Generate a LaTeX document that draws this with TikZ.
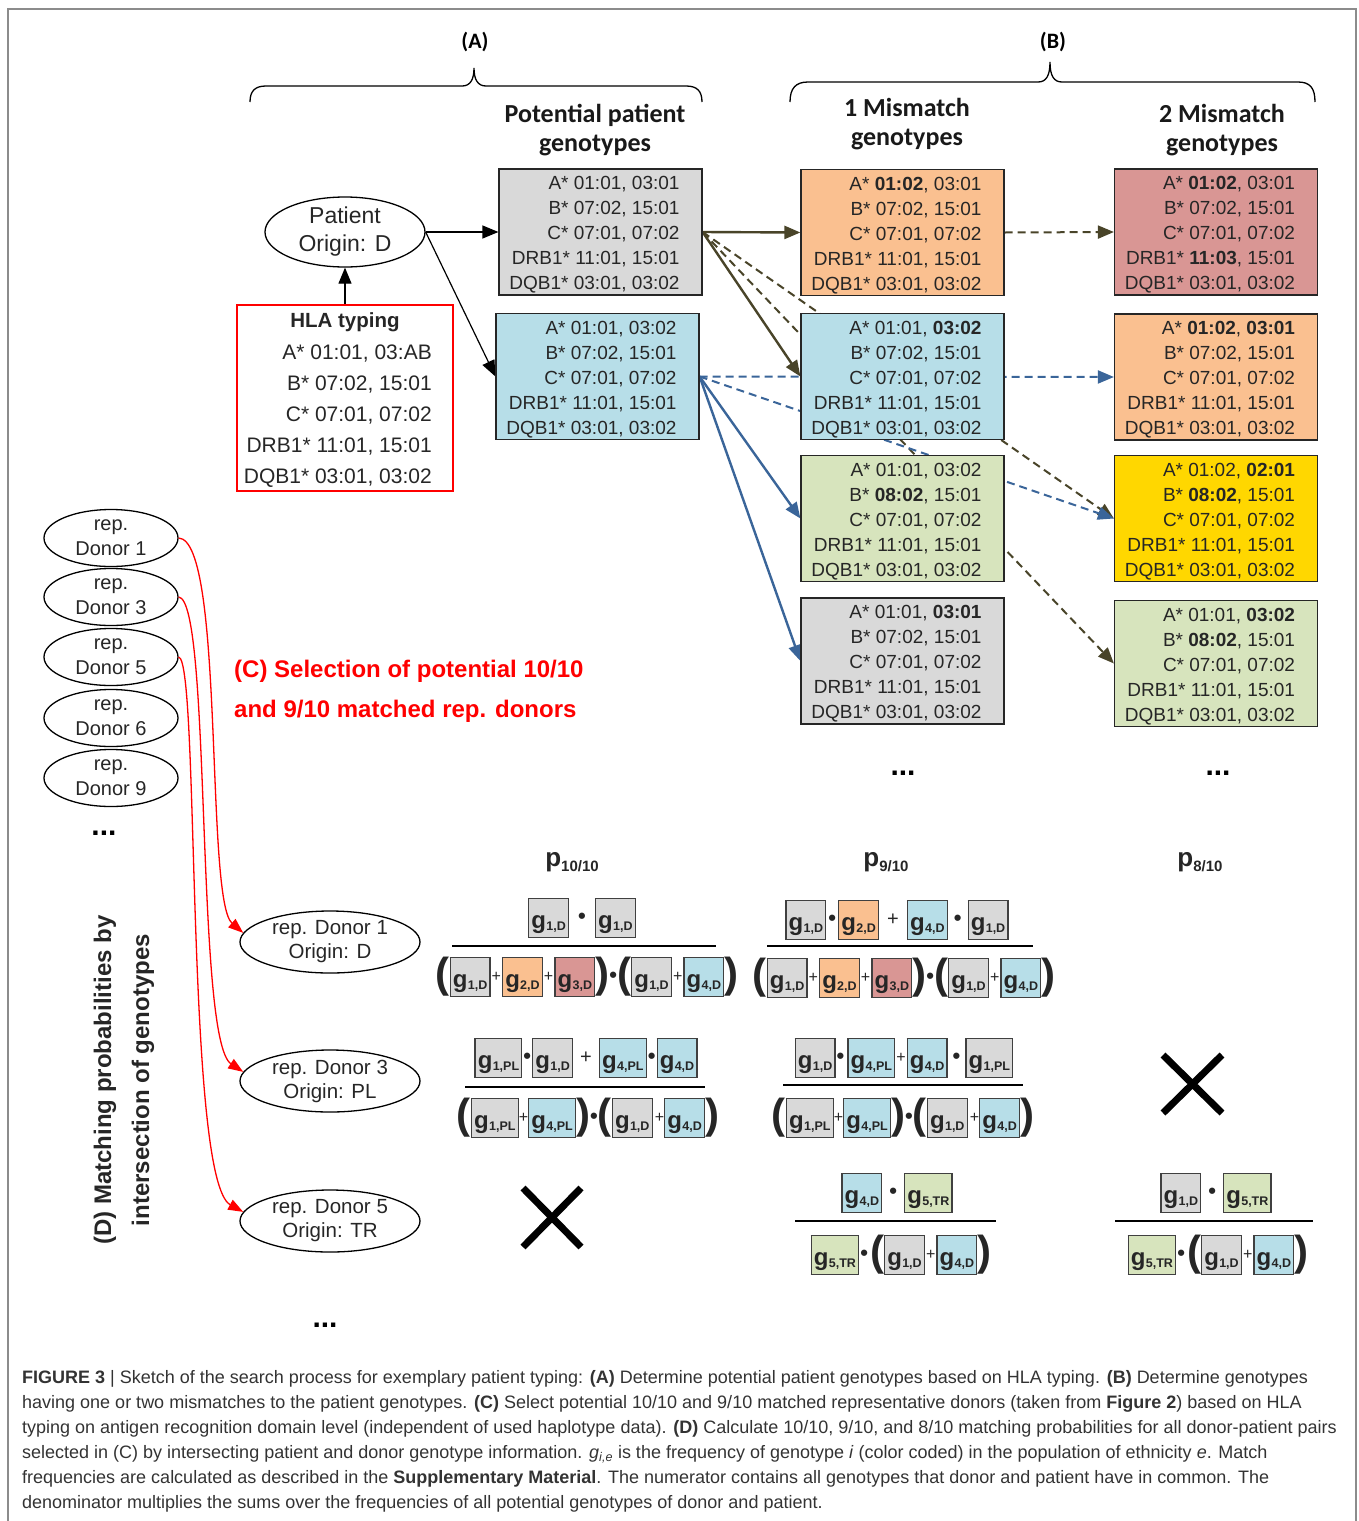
\documentclass[tikz,border=0pt]{standalone}
\usepackage{fontspec}
\setmainfont{Liberation Sans}
\newfontfamily\calfont{Carlito}
\usetikzlibrary{arrows.meta,shapes.geometric,backgrounds}
\definecolor{cgray}{HTML}{D9D9D9}
\definecolor{cblue}{HTML}{B7DEE8}
\definecolor{corange}{HTML}{FAC090}
\definecolor{cpink}{HTML}{D99694}
\definecolor{cyellow}{HTML}{FFD700}
\definecolor{cgreen}{HTML}{D7E4BD}
\definecolor{olivearr}{HTML}{494429}
\definecolor{bluearr}{HTML}{3A6599}
\definecolor{gbd}{HTML}{404040}
\definecolor{txt}{HTML}{262626}
\definecolor{framec}{HTML}{8C8C8C}
\definecolor{capc}{HTML}{333333}

\newcommand\vc[1]{\ensuremath{\vcenter{\hbox{#1}}}}
\newcommand\gb[2]{\vc{\fboxsep=0pt\fboxrule=1.3pt\fcolorbox{gbd}{#1}{\vbox to 38pt{\vfil\hbox{\kern2pt{\fontsize{24}{24}\selectfont g}\kern0.3pt\raisebox{-2pt}{\fontsize{12.5}{12.5}\selectfont #2}\kern2pt}\kern3pt}}}}
\newcommand\bul{\vc{\fontsize{22}{22}\selectfont •}}
\newcommand\gplus{\vc{\fontsize{20}{20}\selectfont\mdseries +}}
\newcommand\gsplus{\vc{\fontsize{16}{16}\selectfont\mdseries +}}
\newcommand\glp{\vc{\fontsize{42}{42}\selectfont (}}
\newcommand\grp{\vc{\fontsize{42}{42}\selectfont )}}
\newcommand\gt[5]{\raisebox{-2.5pt}[\height][\depth]{\begin{tabular}{@{}r@{\hspace{12pt}}}A*~#1\\B*~#2\\C*~#3\\DRB1*~#4\\DQB1*~#5\end{tabular}}}

\tikzset{
  geno/.style={draw=black!85, line width=1.2pt, minimum width=203pt, minimum height=126pt, inner sep=0pt, font=\fontsize{19}{25}\selectfont, text=txt},
  pat/.style={ellipse, draw, line width=1.3pt, minimum width=160pt, minimum height=70pt, inner sep=0pt, align=center, font=\fontsize{23}{28}\selectfont, text=txt},
  donor/.style={ellipse, draw, line width=1.3pt, minimum width=134pt, minimum height=57pt, inner sep=-2pt, align=center, font=\fontsize{20}{25}\selectfont, text=txt},
  ldonor/.style={ellipse, draw, line width=1.3pt, minimum width=180pt, minimum height=62pt, inner sep=0pt, align=center, font=\fontsize{20.5}{24}\selectfont, text=txt},
  head/.style={align=center, font=\calfont\bfseries\fontsize{26}{29}\selectfont, text=black!90},
  blab/.style={font=\calfont\bfseries\fontsize{22}{22}\selectfont},
  fr/.style={inner sep=0pt, font=\bfseries, text=txt},
  plab/.style={inner sep=0pt, font=\fontsize{26}{26}\selectfont\bfseries, text=txt},
  dotsn/.style={inner sep=0pt, font=\fontsize{30}{30}\selectfont\bfseries},
  bar/.style={line width=2.8pt},
  bigx/.style={line width=7pt},
  oarr/.style={draw=olivearr, line width=2.4pt, -{Triangle[length=16pt,width=13pt]}},
  oarrd/.style={oarr, line width=2pt, dash pattern=on 8pt off 5pt},
  barr/.style={draw=bluearr, line width=2.4pt, -{Triangle[length=16pt,width=13pt]}},
  barrd/.style={barr, line width=2pt, dash pattern=on 8pt off 5pt},
  karr/.style={draw=black, line width=1.2pt, -{Triangle[length=16pt,width=13pt]}},
  rarr/.style={draw=red, line width=1.3pt, -{Triangle[length=15pt,width=11pt]}},
  capl/.style={anchor=base west, inner sep=0pt, font=\fontsize{18}{18}\selectfont, text=capc},
}

\begin{document}
\begin{tikzpicture}[x=1pt,y=-1pt]
\useasboundingbox (0,0) rectangle (1358,1521);
\draw[framec, line width=1.5pt] (8,1521) -- (8,9) -- (1356,9) -- (1356,1521);

% braces and labels
\node[blab] (labA) at (475,42) {(A)};
\node[blab] (labB) at (1053,42) {(B)};
\draw[line width=1.3pt] (250,102) .. controls (250,91) and (255,86) .. (266,86) -- (462,86) .. controls (470,86) and (474,80) .. (474,68) .. controls (474,80) and (478,86) .. (486,86) -- (686,86) .. controls (697,86) and (702,91) .. (702,102);
\draw[line width=1.3pt] (790,102) .. controls (790,88) and (796,82) .. (808,82) -- (1038,82) .. controls (1046,82) and (1050,76) .. (1050,62) .. controls (1050,76) and (1054,82) .. (1062,82) -- (1298,82) .. controls (1310,82) and (1315,88) .. (1315,102);

\node[head] (hP) at (595,130) {Potential patient\\genotypes};
\node[head] (h1) at (907,124) {1 Mismatch\\genotypes};
\node[head] (h2) at (1222,130) {2 Mismatch\\genotypes};

% patient
\node[pat] (pat) at (345,232) {Patient\\Origin: D};
\node[draw=red, line width=1.3pt, minimum width=216pt, minimum height=186pt, inner sep=0pt] (hla) at (345,398) {};
\node[font=\fontsize{20.5}{20.5}\selectfont\bfseries, text=txt, inner sep=0pt] (hlat) at (345,322) {HLA typing};
\node[anchor=east, inner sep=0pt, font=\fontsize{21}{31}\selectfont, text=txt] (hlal) at (432,415) {\begin{tabular}{@{}r@{}}A* 01:01, 03:AB\\B* 07:02, 15:01\\C* 07:01, 07:02\\DRB1* 11:01, 15:01\\DQB1* 03:01, 03:02\end{tabular}};

% genotype boxes
\node[geno, fill=cgray] (P1) at (600.5,232) {\gt{01:01, 03:01}{07:02, 15:01}{07:01, 07:02}{11:01, 15:01}{03:01, 03:02}};
\node[geno, fill=cblue] (P2) at (597.5,376.5) {\gt{01:01, 03:02}{07:02, 15:01}{07:01, 07:02}{11:01, 15:01}{03:01, 03:02}};
\node[geno, fill=corange] (M1a) at (902.5,232.5) {\gt{\textbf{01:02}, 03:01}{07:02, 15:01}{07:01, 07:02}{11:01, 15:01}{03:01, 03:02}};
\node[geno, fill=cblue] (M1b) at (902.5,376.5) {\gt{01:01, \textbf{03:02}}{07:02, 15:01}{07:01, 07:02}{11:01, 15:01}{03:01, 03:02}};
\node[geno, fill=cgreen] (M1c) at (902.5,518.5) {\gt{01:01, 03:02}{\textbf{08:02}, 15:01}{07:01, 07:02}{11:01, 15:01}{03:01, 03:02}};
\node[geno, fill=cgray] (M1d) at (902.5,661) {\gt{01:01, \textbf{03:01}}{07:02, 15:01}{07:01, 07:02}{11:01, 15:01}{03:01, 03:02}};
\node[geno, fill=cpink] (M2a) at (1216,232) {\gt{\textbf{01:02}, 03:01}{07:02, 15:01}{07:01, 07:02}{\textbf{11:03}, 15:01}{03:01, 03:02}};
\node[geno, fill=corange] (M2b) at (1216,377) {\gt{\textbf{01:02}, \textbf{03:01}}{07:02, 15:01}{07:01, 07:02}{11:01, 15:01}{03:01, 03:02}};
\node[geno, fill=cyellow] (M2c) at (1216,518.5) {\gt{01:02, \textbf{02:01}}{\textbf{08:02}, 15:01}{07:01, 07:02}{11:01, 15:01}{03:01, 03:02}};
\node[geno, fill=cgreen] (M2d) at (1216,663.5) {\gt{01:01, \textbf{03:02}}{\textbf{08:02}, 15:01}{07:01, 07:02}{11:01, 15:01}{03:01, 03:02}};

\node[dotsn] (dM1) at (903,773) {...};
\node[dotsn] (dM2) at (1218,773) {...};

% connectors (behind boxes)
\begin{scope}[on background layer]
\draw[karr] (hla.north) -- (pat.south);
\draw[karr] (pat.east) -- (P1.west);
\draw[karr] (pat.east) -- (P2.west);
\draw[oarrd] (P1.east) -- (M2c.west);
\draw[oarrd] (P1.east) -- (M2d.west);
\draw[oarr] (P1.east) -- (M1a.west);
\draw[oarr] (P1.east) -- (M1b.west);
\draw[oarrd] (M1a.east) -- (M2a.west);
\draw[barrd] (P2.east) -- (M2b.west);
\draw[barrd] (P2.east) -- (M2c.west);
\draw[barr] (P2.east) -- (M1c.west);
\draw[barr] (P2.east) -- (M1d.west);
\end{scope}

% donors
\node[donor] (D1) at (111,538) {rep.\\Donor 1};
\node[donor] (D3) at (111,597) {rep.\\Donor 3};
\node[donor] (D5) at (111,657) {rep.\\Donor 5};
\node[donor] (D6) at (111,718) {rep.\\Donor 6};
\node[donor] (D9) at (111,778) {rep.\\Donor 9};
\node[dotsn] (dD) at (104,833) {...};

\node[anchor=west, align=left, inner sep=0pt, text=red, font=\fontsize{24}{40}\selectfont\bfseries] (selC) at (234,691) {(C) Selection of potential 10/10\\and 9/10 matched rep. donors};

\node[ldonor] (L1) at (330,942) {rep. Donor 1\\Origin: D};
\node[ldonor] (L3) at (330,1081) {rep. Donor 3\\Origin: PL};
\node[ldonor] (L5) at (330,1221) {rep. Donor 5\\Origin: TR};
\node[dotsn] (dL) at (325,1325) {...};

\draw[rarr] (D1.east) .. controls (225,540) and (205,900) .. (L1.174);
\draw[rarr] (D3.east) .. controls (212,600) and (195,1040) .. (L3.174);
\draw[rarr] (D5.east) .. controls (200,660) and (185,1180) .. (L5.174);

\node[rotate=90, align=center, inner sep=0pt, font=\fontsize{24}{38}\selectfont\bfseries, text=txt] (labD) at (124,1080) {(D) Matching probabilities by\\intersection of genotypes};

% p labels
\node[plab] (p10) at (572,862) {p\raisebox{-5pt}{\fontsize{15}{15}\selectfont 10/10}};
\node[plab] (p9) at (886,862) {p\raisebox{-5pt}{\fontsize{15}{15}\selectfont 9/10}};
\node[plab] (p8) at (1200,862) {p\raisebox{-5pt}{\fontsize{15}{15}\selectfont 8/10}};

% row 1
\node[fr] (n1a) at (582,918) {\gb{cgray}{1,D}\kern9pt\bul\kern9pt\gb{cgray}{1,D}};
\draw[bar] (452,946) -- (716,946);
\node[fr] (d1a) at (587,977) {\glp\gb{cgray}{1,D}\kern1pt\gsplus\kern1pt\gb{corange}{2,D}\kern1pt\gsplus\kern1pt\gb{cpink}{3,D}\grp\bul\glp\gb{cgray}{1,D}\kern1pt\gsplus\kern1pt\gb{cblue}{4,D}\grp};
\node[fr] (n1b) at (897,920) {\gb{cgray}{1,D}\kern2pt\bul\kern2pt\gb{corange}{2,D}\kern8pt\gplus\kern8pt\gb{cblue}{4,D}\kern6pt\bul\kern6pt\gb{cgray}{1,D}};
\draw[bar] (767,946) -- (1033,946);
\node[fr] (d1b) at (904,978) {\glp\gb{cgray}{1,D}\kern1pt\gsplus\kern1pt\gb{corange}{2,D}\kern1pt\gsplus\kern1pt\gb{cpink}{3,D}\grp\bul\glp\gb{cgray}{1,D}\kern1pt\gsplus\kern1pt\gb{cblue}{4,D}\grp};

% row 2
\node[fr] (n2a) at (586,1058) {\gb{cgray}{1,PL}\kern1pt\bul\kern1pt\gb{cgray}{1,D}\kern7pt\gplus\kern7pt\gb{cblue}{4,PL}\kern1pt\bul\kern1pt\gb{cblue}{4,D}};
\draw[bar] (465,1087) -- (705,1087);
\node[fr] (d2a) at (588,1118) {\glp\gb{cgray}{1,PL}\gsplus\gb{cblue}{4,PL}\grp\bul\glp\gb{cgray}{1,D}\kern2pt\gsplus\gb{cblue}{4,D}\grp};
\node[fr] (n2b) at (904,1058) {\gb{cgray}{1,D}\kern1pt\bul\kern3pt\gb{cblue}{4,PL}\kern1pt\gsplus\kern1pt\gb{cblue}{4,D}\kern5pt\bul\kern5pt\gb{cgray}{1,PL}};
\draw[bar] (783,1085) -- (1023,1085);
\node[fr] (d2b) at (903,1118) {\glp\gb{cgray}{1,PL}\gsplus\gb{cblue}{4,PL}\grp\bul\glp\gb{cgray}{1,D}\kern2pt\gsplus\gb{cblue}{4,D}\grp};
\draw[bigx] (1163,1055) -- (1222,1113) (1163,1113) -- (1222,1055);

% row 3
\draw[bigx] (523,1188) -- (581,1247) (523,1247) -- (581,1188);
\node[fr] (n3b) at (897,1193) {\gb{cblue}{4,D}\kern7pt\bul\kern7pt\gb{cgreen}{5,TR}};
\draw[bar] (795,1221) -- (996,1221);
\node[fr] (d3b) at (901,1255) {\gb{cgreen}{5,TR}\kern1pt\bul\kern2pt\glp\gb{cgray}{1,D}\kern1pt\gsplus\kern1pt\gb{cblue}{4,D}\grp};
\node[fr] (n3c) at (1216,1193) {\gb{cgray}{1,D}\kern7pt\bul\kern7pt\gb{cgreen}{5,TR}};
\draw[bar] (1115,1221) -- (1313,1221);
\node[fr] (d3c) at (1218,1255) {\gb{cgreen}{5,TR}\kern1pt\bul\kern2pt\glp\gb{cgray}{1,D}\kern1pt\gsplus\kern1pt\gb{cblue}{4,D}\grp};

% caption
\node[capl] (c1) at (22,1383) {\textbf{FIGURE 3} | Sketch of the search process for exemplary patient typing: \textbf{(A)} Determine potential patient genotypes based on HLA typing. \textbf{(B)} Determine genotypes};
\node[capl] (c2) at (22,1408) {having one or two mismatches to the patient genotypes. \textbf{(C)} Select potential 10/10 and 9/10 matched representative donors (taken from \textbf{Figure 2}) based on HLA};
\node[capl] (c3) at (22,1433) {typing on antigen recognition domain level (independent of used haplotype data). \textbf{(D)} Calculate 10/10, 9/10, and 8/10 matching probabilities for all donor-patient pairs};
\node[capl] (c4) at (22,1458) {selected in (C) by intersecting patient and donor genotype information. \textit{g\textsubscript{i,e}} is the frequency of genotype \textit{i} (color coded) in the population of ethnicity \textit{e}. Match};
\node[capl] (c5) at (22,1483) {frequencies are calculated as described in the \textbf{Supplementary Material}. The numerator contains all genotypes that donor and patient have in common. The};
\node[capl] (c6) at (22,1508) {denominator multiplies the sums over the frequencies of all potential genotypes of donor and patient.};
\end{tikzpicture}
\end{document}
